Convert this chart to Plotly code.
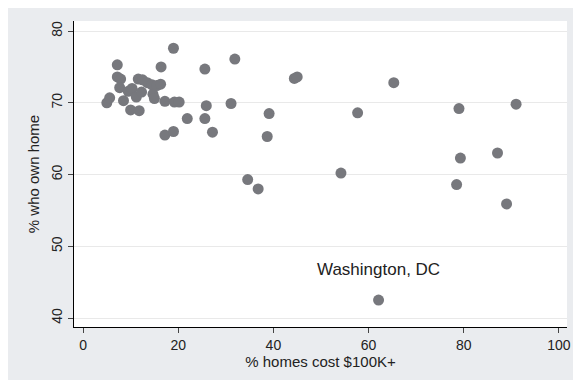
import plotly.graph_objects as go

# % homes cost $100K+  (x)  and  % who own home (y)
pct_homes_100k = [5.0, 5.6, 7.2, 7.2, 7.9, 7.7, 8.5, 9.5, 10.0, 10.3, 11.2, 11.6, 11.8, 12.5, 12.3,
                  13.5, 14.5, 14.7, 15.0, 15.5, 16.4, 16.3, 17.2, 17.2, 19.0, 19.2, 20.2, 19.0, 21.9,
                  25.6, 25.9, 25.6, 27.2, 31.1, 31.9, 34.6, 36.8, 38.7, 39.1, 44.4, 45.0, 54.2, 57.7,
                  62.1, 65.3, 78.5, 79.0, 79.3, 87.1, 89.0, 91.0]
pct_own_home = [70.0, 70.7, 75.3, 73.6, 73.3, 72.1, 70.3, 71.6, 69.0, 72.0, 70.8, 73.3, 68.9, 73.2, 71.5,
                72.8, 72.5, 71.2, 70.6, 72.4, 75.0, 72.6, 70.2, 65.5, 77.6, 70.1, 70.1, 66.0, 67.8,
                74.7, 69.6, 67.8, 65.9, 69.9, 76.1, 59.3, 58.0, 65.3, 68.5, 73.4, 73.6, 60.2, 68.6,
                42.5, 72.8, 58.6, 69.2, 62.3, 63.0, 55.9, 69.8]
labels = [""] * len(pct_homes_100k)
labels[43] = "Washington, DC"

x_ticks = [0, 20, 40, 60, 80, 100]
y_ticks = [40, 50, 60, 70, 80]

fig = go.Figure()
fig.add_trace(go.Scatter(
    x=pct_homes_100k, y=pct_own_home, mode="markers",
    marker=dict(size=11, color="#77787d", line=dict(width=0)),
    hoverinfo="skip", showlegend=False,
))

for xv, yv, lab in zip(pct_homes_100k, pct_own_home, labels):
    if lab:
        fig.add_annotation(x=xv, y=yv, text=lab, showarrow=False, yshift=31,
                           font=dict(family="Liberation Sans, Arial", size=17, color="#222222"))

axis_font = dict(family="Liberation Sans, Arial", size=14, color="#222222")
title_font = dict(family="Liberation Sans, Arial", size=15, color="#222222")

fig.update_layout(
    width=573, height=372,
    margin=dict(l=66, r=10, t=13, b=53, pad=0),
    paper_bgcolor="#eaecef", plot_bgcolor="white",
    xaxis=dict(range=[-1.9, 101.7], tickvals=x_ticks, showgrid=False, zeroline=False,
               showline=True, linecolor="black", linewidth=1,
               ticks="outside", ticklen=5, tickcolor="#444444",
               tickfont=axis_font,
               title=dict(text="% homes cost $100K+", font=title_font, standoff=2)),
    yaxis=dict(range=[38.75, 81.4], tickvals=y_ticks, showgrid=True, gridcolor="#e9e9e9",
               gridwidth=1, zeroline=False,
               showline=True, linecolor="black", linewidth=1,
               ticks="outside", ticklen=5, tickcolor="#444444",
               tickangle=-90, tickfont=axis_font,
               title=dict(text="% who own home", font=title_font, standoff=6)),
)

fig.write_html("out.html")
